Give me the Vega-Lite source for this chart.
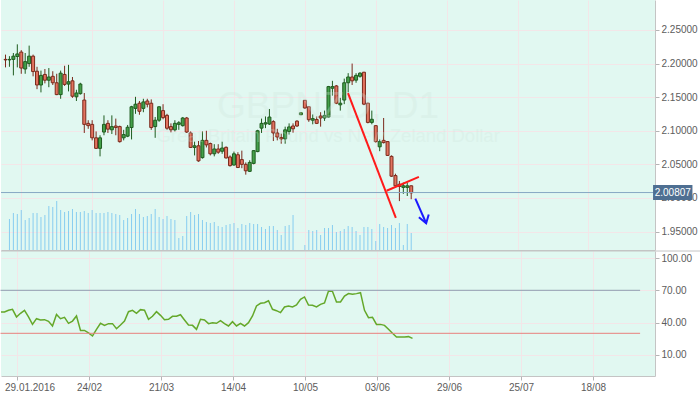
{
  "$schema": "https://vega.github.io/schema/vega-lite/v6.json",
  "padding": 0,
  "background": "#ffffff",
  "spacing": 0,
  "config": {
    "view": {"fill": "#e1f8f1", "stroke": null},
    "axis": {"labelFont": "Liberation Sans", "labelFontSize": 10, "labelColor": "#5c5c5c", "tickColor": "#b4b4b4", "domainColor": "#c4c4c4", "gridColor": "#f3e6e8", "gridWidth": 1, "titleFontSize": 0, "labelOverlap": false}
  },
  "datasets": {
    "bars": [
      {"i":-1,"o":2.2062,"h":2.2133,"l":2.1943,"c":2.2055,"v":null,"r":49.8},
      {"i":0,"o":2.2055,"h":2.2110,"l":2.1952,"c":2.2062,"v":31,"r":49.8},
      {"i":1,"o":2.2062,"h":2.2157,"l":2.1824,"c":2.2110,"v":37,"r":51.4},
      {"i":2,"o":2.2105,"h":2.2286,"l":2.1943,"c":2.2143,"v":36,"r":52.3},
      {"i":3,"o":2.2171,"h":2.2200,"l":2.1848,"c":2.1933,"v":40,"r":45.2},
      {"i":4,"o":2.1919,"h":2.2157,"l":2.1848,"c":2.2029,"v":30,"r":48.6},
      {"i":5,"o":2.2000,"h":2.2267,"l":2.1952,"c":2.2110,"v":32,"r":51.4},
      {"i":6,"o":2.2110,"h":2.2133,"l":2.1810,"c":2.1881,"v":37,"r":45.2},
      {"i":7,"o":2.1886,"h":2.1952,"l":2.1619,"c":2.1681,"v":37,"r":38.3},
      {"i":8,"o":2.1681,"h":2.1895,"l":2.1571,"c":2.1824,"v":33,"r":43.6},
      {"i":9,"o":2.1838,"h":2.1919,"l":2.1705,"c":2.1752,"v":35,"r":42.4},
      {"i":10,"o":2.1752,"h":2.1933,"l":2.1648,"c":2.1800,"v":44,"r":42.7},
      {"i":11,"o":2.1810,"h":2.1886,"l":2.1681,"c":2.1714,"v":43,"r":41.1},
      {"i":12,"o":2.1714,"h":2.1848,"l":2.1530,"c":2.1538,"v":49,"r":36.8},
      {"i":13,"o":2.1538,"h":2.1895,"l":2.1476,"c":2.1857,"v":40,"r":47.6},
      {"i":14,"o":2.1838,"h":2.1967,"l":2.1667,"c":2.1690,"v":38,"r":43.6},
      {"i":15,"o":2.1695,"h":2.1981,"l":2.1586,"c":2.1729,"v":39,"r":44.85},
      {"i":16,"o":2.1743,"h":2.1800,"l":2.1490,"c":2.1514,"v":41,"r":39.3},
      {"i":17,"o":2.1505,"h":2.1610,"l":2.1443,"c":2.1562,"v":38,"r":41.4},
      {"i":18,"o":2.1552,"h":2.1714,"l":2.1538,"c":2.1695,"v":38,"r":46.1},
      {"i":19,"o":2.1457,"h":2.1562,"l":2.0967,"c":2.1095,"v":39,"r":32.7},
      {"i":20,"o":2.1110,"h":2.1157,"l":2.1029,"c":2.1076,"v":37,"r":32.7},
      {"i":21,"o":2.1095,"h":2.1157,"l":2.0857,"c":2.0895,"v":40,"r":30.3},
      {"i":22,"o":2.0895,"h":2.0990,"l":2.0730,"c":2.0738,"v":37,"r":27.5},
      {"i":23,"o":2.0738,"h":2.0933,"l":2.0619,"c":2.0895,"v":37,"r":33.7},
      {"i":24,"o":2.0981,"h":2.1229,"l":2.0933,"c":2.1095,"v":37,"r":39.3},
      {"i":25,"o":2.1110,"h":2.1157,"l":2.0967,"c":2.1024,"v":38,"r":37.4},
      {"i":26,"o":2.1014,"h":2.1229,"l":2.0952,"c":2.1062,"v":37,"r":39.0},
      {"i":27,"o":2.1071,"h":2.1181,"l":2.0933,"c":2.1048,"v":36,"r":39.0},
      {"i":28,"o":2.1062,"h":2.1076,"l":2.0824,"c":2.0838,"v":35,"r":34.3},
      {"i":29,"o":2.0895,"h":2.1014,"l":2.0857,"c":2.0943,"v":30,"r":37.7},
      {"i":30,"o":2.0919,"h":2.1086,"l":2.0905,"c":2.1052,"v":32,"r":41.4},
      {"i":31,"o":2.1048,"h":2.1371,"l":2.0871,"c":2.1357,"v":36,"r":50.1},
      {"i":32,"o":2.1333,"h":2.1505,"l":2.1252,"c":2.1395,"v":41,"r":51.4},
      {"i":33,"o":2.1410,"h":2.1443,"l":2.1238,"c":2.1290,"v":36,"r":48.6},
      {"i":34,"o":2.1333,"h":2.1476,"l":2.1276,"c":2.1429,"v":33,"r":52.0},
      {"i":35,"o":2.1443,"h":2.1476,"l":2.1348,"c":2.1395,"v":34,"r":51.4},
      {"i":36,"o":2.1410,"h":2.1467,"l":2.1014,"c":2.1048,"v":36,"r":43.0},
      {"i":37,"o":2.1062,"h":2.1205,"l":2.0895,"c":2.1157,"v":41,"r":45.8},
      {"i":38,"o":2.1157,"h":2.1362,"l":2.1133,"c":2.1357,"v":33,"r":50.1},
      {"i":39,"o":2.1300,"h":2.1395,"l":2.1171,"c":2.1195,"v":31,"r":46.7},
      {"i":40,"o":2.1229,"h":2.1252,"l":2.1014,"c":2.1038,"v":34,"r":42.7},
      {"i":41,"o":2.1062,"h":2.1110,"l":2.0976,"c":2.1014,"v":31,"r":43.0},
      {"i":42,"o":2.1014,"h":2.1157,"l":2.0990,"c":2.1110,"v":30,"r":45.8},
      {"i":43,"o":2.1095,"h":2.1143,"l":2.1014,"c":2.1119,"v":12,"r":45.8},
      {"i":44,"o":2.1076,"h":2.1205,"l":2.1062,"c":2.1190,"v":14,"r":47.3},
      {"i":45,"o":2.1190,"h":2.1205,"l":2.0967,"c":2.0981,"v":34,"r":42.4},
      {"i":46,"o":2.0967,"h":2.0990,"l":2.0743,"c":2.0752,"v":38,"r":37.7},
      {"i":47,"o":2.0752,"h":2.0838,"l":2.0633,"c":2.0776,"v":35,"r":37.4},
      {"i":48,"o":2.0776,"h":2.0848,"l":2.0538,"c":2.0552,"v":36,"r":33.7},
      {"i":49,"o":2.0600,"h":2.0990,"l":2.0586,"c":2.0857,"v":30,"r":43.0},
      {"i":50,"o":2.0857,"h":2.1000,"l":2.0752,"c":2.0790,"v":28,"r":42.4},
      {"i":51,"o":2.0810,"h":2.0824,"l":2.0633,"c":2.0657,"v":27,"r":39.0},
      {"i":52,"o":2.0657,"h":2.0800,"l":2.0619,"c":2.0729,"v":28,"r":39.9},
      {"i":53,"o":2.0729,"h":2.0800,"l":2.0657,"c":2.0681,"v":24,"r":39.3},
      {"i":54,"o":2.0695,"h":2.0838,"l":2.0657,"c":2.0743,"v":23,"r":41.7},
      {"i":55,"o":2.0753,"h":2.0767,"l":2.0586,"c":2.0596,"v":25,"r":39.0},
      {"i":56,"o":2.0610,"h":2.0633,"l":2.0467,"c":2.0481,"v":26,"r":36.8},
      {"i":57,"o":2.0490,"h":2.0690,"l":2.0481,"c":2.0657,"v":27,"r":40.8},
      {"i":58,"o":2.0643,"h":2.0681,"l":2.0445,"c":2.0453,"v":22,"r":36.8},
      {"i":59,"o":2.0571,"h":2.0704,"l":2.0443,"c":2.0500,"v":26,"r":39.3},
      {"i":60,"o":2.0500,"h":2.0529,"l":2.0347,"c":2.0404,"v":25,"r":36.8},
      {"i":61,"o":2.0396,"h":2.0561,"l":2.0386,"c":2.0529,"v":27,"r":39.9},
      {"i":62,"o":2.0514,"h":2.0710,"l":2.0500,"c":2.0704,"v":26,"r":46.1},
      {"i":63,"o":2.0690,"h":2.1014,"l":2.0681,"c":2.1000,"v":26,"r":55.4},
      {"i":64,"o":2.1039,"h":2.1181,"l":2.0967,"c":2.1110,"v":23,"r":57.9},
      {"i":65,"o":2.1100,"h":2.1214,"l":2.1039,"c":2.1119,"v":21,"r":58.5},
      {"i":66,"o":2.1100,"h":2.1324,"l":2.1086,"c":2.1204,"v":24,"r":60.3},
      {"i":67,"o":2.1136,"h":2.1157,"l":2.0847,"c":2.0967,"v":24,"r":52.3},
      {"i":68,"o":2.0967,"h":2.1029,"l":2.0857,"c":2.0907,"v":20,"r":51.05},
      {"i":69,"o":2.0900,"h":2.0957,"l":2.0807,"c":2.0879,"v":15,"r":49.2},
      {"i":70,"o":2.0879,"h":2.1061,"l":2.0807,"c":2.1014,"v":24,"r":54.5},
      {"i":71,"o":2.0990,"h":2.1110,"l":2.0943,"c":2.1057,"v":25,"r":55.4},
      {"i":72,"o":2.1071,"h":2.1110,"l":2.0971,"c":2.1029,"v":35,"r":54.5},
      {"i":73,"o":2.1143,"h":2.1157,"l":2.1057,"c":2.1071,"v":null,"r":56.3},
      {"i":74,"o":2.1239,"h":2.1275,"l":2.1232,"c":2.1267,"v":null,"r":61.6},
      {"i":75,"o":2.1453,"h":2.1457,"l":2.1329,"c":2.1339,"v":5,"r":63.8},
      {"i":76,"o":2.1357,"h":2.1361,"l":2.1133,"c":2.1164,"v":20,"r":56.3},
      {"i":77,"o":2.1157,"h":2.1243,"l":2.1096,"c":2.1181,"v":19,"r":56.0},
      {"i":78,"o":2.1167,"h":2.1214,"l":2.1100,"c":2.1110,"v":20,"r":54.5},
      {"i":79,"o":2.1219,"h":2.1276,"l":2.1061,"c":2.1190,"v":15,"r":56.9},
      {"i":80,"o":2.1190,"h":2.1300,"l":2.1147,"c":2.1229,"v":22,"r":58.2},
      {"i":81,"o":2.1204,"h":2.1667,"l":2.1196,"c":2.1657,"v":22,"r":69.3},
      {"i":82,"o":2.1633,"h":2.1743,"l":2.1524,"c":2.1657,"v":25,"r":69.0},
      {"i":83,"o":2.1667,"h":2.1681,"l":2.1396,"c":2.1410,"v":18,"r":59.1},
      {"i":84,"o":2.1386,"h":2.1490,"l":2.1300,"c":2.1410,"v":19,"r":59.1},
      {"i":85,"o":2.1457,"h":2.1776,"l":2.1396,"c":2.1714,"v":21,"r":64.7},
      {"i":86,"o":2.1714,"h":2.1857,"l":2.1571,"c":2.1800,"v":24,"r":66.9},
      {"i":87,"o":2.1800,"h":2.2000,"l":2.1681,"c":2.1743,"v":23,"r":66.25},
      {"i":88,"o":2.1753,"h":2.1857,"l":2.1714,"c":2.1824,"v":19,"r":66.9},
      {"i":89,"o":2.1810,"h":2.1871,"l":2.1790,"c":2.1857,"v":15,"r":67.8},
      {"i":90,"o":2.1871,"h":2.1876,"l":2.1381,"c":2.1396,"v":23,"r":51.4},
      {"i":91,"o":2.1410,"h":2.1419,"l":2.1110,"c":2.1124,"v":23,"r":44.5},
      {"i":92,"o":2.1124,"h":2.1300,"l":2.1096,"c":2.1171,"v":21,"r":44.85},
      {"i":93,"o":2.1076,"h":2.1081,"l":2.0824,"c":2.0839,"v":9,"r":38.3},
      {"i":94,"o":2.0761,"h":2.0871,"l":2.0696,"c":2.0839,"v":26,"r":38.3},
      {"i":95,"o":2.0857,"h":2.1190,"l":2.0810,"c":2.0824,"v":23,"r":37.4},
      {"i":96,"o":2.0839,"h":2.0845,"l":2.0625,"c":2.0633,"v":22,"r":33.7},
      {"i":97,"o":2.0619,"h":2.0633,"l":2.0314,"c":2.0324,"v":25,"r":30.0},
      {"i":98,"o":2.0333,"h":2.0361,"l":2.0157,"c":2.0181,"v":22,"r":26.55},
      {"i":99,"o":2.0204,"h":2.0253,"l":1.9953,"c":2.0171,"v":27,"r":26.55},
      {"i":100,"o":2.0157,"h":2.0229,"l":2.0061,"c":2.0181,"v":5,"r":26.55},
      {"i":101,"o":2.0157,"h":2.0229,"l":2.0029,"c":2.0181,"v":26,"r":26.9},
      {"i":102,"o":2.0181,"h":2.0185,"l":1.9981,"c":2.0076,"v":17,"r":25.3}
    ],
    "drawings": [
      {"name":"trend1","i":85.95,"p":2.1561},
      {"name":"trend1","i":98.1,"p":1.9704},
      {"name":"trend2","i":95.75,"p":2.0107},
      {"name":"trend2","i":103.95,"p":2.0314},
      {"name":"arrow","i":103.05,"p":1.9990},
      {"name":"arrow","i":105.8,"p":1.9624},
      {"name":"head","i":103.95,"p":1.9714},
      {"name":"head","i":105.8,"p":1.9624},
      {"name":"head","i":106.45,"p":1.9753}
    ],
    "one": [{}]
  },
  "vconcat": [
    {
      "width": 654,
      "height": 250,
      "layer": [
        {
          "data": {"name": "bars"},
          "mark": {"type": "bar", "width": 1, "color": "#87cdf0", "clip": true},
          "encoding": {
            "x": {"field": "i", "type": "quantitative", "scale": {"domain": [-0.875, 162.625], "nice": false, "zero": false},
              "axis": {"orient": "bottom", "values": [3,12,21,30,39,48,57,66,75,84,93,102,111,120,129,138,147,156], "labels": false, "ticks": false, "grid": true, "domain": true, "title": null}},
            "y": {"field": "v", "type": "quantitative", "scale": {"domain": [0, 250], "nice": false}, "axis": null}
          }
        },
        {
          "layer": [
            {
              "data": {"name": "bars"},
              "mark": {"type": "rule", "strokeWidth": 1, "clip": true},
              "encoding": {
                "x": {"field": "i", "type": "quantitative"},
                "y": {"field": "l", "type": "quantitative", "scale": {"domain": [1.93, 2.28714], "nice": false, "zero": false},
                  "axis": {"orient": "right", "title": null, "values": [1.95, 2.0, 2.05, 2.1, 2.15, 2.2, 2.25], "format": ".5f",
                    "labelPadding": 2, "labelOverlap": false, "tickSize": 4, "grid": true, "domain": true}},
                "y2": {"field": "h"},
                "color": {"condition": {"test": "datum.c >= datum.o", "value": "#1f5c1f"}, "value": "#7a2a1c"}
              }
            },
            {
              "data": {"name": "bars"},
              "mark": {"type": "bar", "width": 3, "strokeWidth": 1, "clip": true},
              "encoding": {
                "x": {"field": "i", "type": "quantitative"},
                "y": {"field": "o", "type": "quantitative"},
                "y2": {"field": "c"},
                "fill": {"condition": {"test": "datum.c >= datum.o", "value": "#44a04a"}, "value": "#e2735f"},
                "stroke": {"condition": {"test": "datum.c >= datum.o", "value": "#1f5c1f"}, "value": "#7a2a1c"}
              }
            },
            {
              "data": {"name": "one"},
              "mark": {"type": "text", "font": "Liberation Sans", "fontSize": 37, "color": "#cfe3db", "opacity": 0.28, "align": "center", "baseline": "alphabetic"},
              "encoding": {
                "x": {"datum": 80.9, "type": "quantitative"},
                "y": {"datum": 2.1186, "type": "quantitative"},
                "text": {"value": "GBPNZD, D1"}
              }
            },
            {
              "data": {"name": "one"},
              "mark": {"type": "text", "font": "Liberation Sans", "fontSize": 18.5, "color": "#cfe3db", "opacity": 0.28, "align": "center", "baseline": "alphabetic"},
              "encoding": {
                "x": {"datum": 80.9, "type": "quantitative"},
                "y": {"datum": 2.0829, "type": "quantitative"},
                "text": {"value": "Great Britain Pound vs New Zeland Dollar"}
              }
            },
            {
              "data": {"name": "one"},
              "mark": {"type": "rule", "color": "#88a9c4", "strokeWidth": 1},
              "encoding": {
                "y": {"datum": 2.00807, "type": "quantitative"}
              }
            },
            {
              "data": {"name": "drawings"},
              "mark": {"type": "line", "strokeWidth": 2, "clip": true},
              "encoding": {
                "x": {"field": "i", "type": "quantitative"},
                "y": {"field": "p", "type": "quantitative"},
                "detail": {"field": "name"},
                "color": {"field": "name", "type": "nominal", "legend": null,
                  "scale": {"domain": ["trend1", "trend2", "arrow", "head"], "range": ["#ff1a1a", "#ff1a1a", "#1a1aff", "#1a1aff"]}},
                "order": {"field": "i", "type": "quantitative"}
              }
            },
            {
              "data": {"name": "one"},
              "mark": {"type": "bar", "height": 15, "color": "#4e6f92", "clip": false},
              "encoding": {
                "x": {"datum": 163.4, "type": "quantitative"},
                "x2": {"datum": 173.4},
                "y": {"datum": 2.00807, "type": "quantitative"}
              }
            },
            {
              "data": {"name": "one"},
              "mark": {"type": "text", "font": "Liberation Sans", "fontSize": 10, "color": "#ffffff", "align": "center", "baseline": "middle", "clip": false},
              "encoding": {
                "x": {"datum": 168.4, "type": "quantitative"},
                "y": {"datum": 2.00807, "type": "quantitative"},
                "text": {"value": "2.00807"}
              }
            }
          ]
        }
      ],
      "resolve": {"scale": {"y": "independent"}}
    },
    {
      "width": 654,
      "height": 125,
      "layer": [
        {
          "data": {"name": "bars"},
          "mark": {"type": "line", "color": "#64a82a", "strokeWidth": 1.5, "clip": true},
          "encoding": {
            "x": {"field": "i", "type": "quantitative", "scale": {"domain": [-0.875, 162.625], "nice": false, "zero": false},
              "axis": {"orient": "bottom", "values": [3,12,21,30,39,48,57,66,75,84,93,102,111,120,129,138,147,156], "title": null,
                "grid": true, "domain": true,
                "labelExpr": "(datum.value - 3) % 18 == 0 ? ['29.01.2016','24/02','21/03','14/04','10/05','03/06','29/06','25/07','18/08'][(datum.value - 3) / 18] : ''",
                "labelAlign": "left", "labelOffset": -12, "labelOverlap": false,
                "tickSize": {"condition": {"test": "(datum.value - 3) % 18 == 0", "value": 4}, "value": 0},
                "labelPadding": 2}},
            "y": {"field": "r", "type": "quantitative", "scale": {"domain": [-9.72, 106.56], "nice": false, "zero": false},
              "axis": {"orient": "right", "title": null, "values": [10, 40, 70, 100], "format": ".2f", "grid": true, "domain": true, "tickSize": 4, "labelPadding": 2, "labelOverlap": false}}
          }
        },
        {
          "data": {"name": "one"},
          "mark": {"type": "rule", "color": "#8d9fb1", "strokeWidth": 1},
          "encoding": {
            "x": {"datum": -1, "type": "quantitative"},
            "x2": {"datum": 158.9},
            "y": {"datum": 70, "type": "quantitative"}
          }
        },
        {
          "data": {"name": "one"},
          "mark": {"type": "rule", "color": "#e8807e", "strokeWidth": 1},
          "encoding": {
            "x": {"datum": -1, "type": "quantitative"},
            "x2": {"datum": 158.9},
            "y": {"datum": 30, "type": "quantitative"}
          }
        },
        {
          "data": {"name": "one"},
          "mark": {"type": "rule", "color": "#c4c4c4", "strokeWidth": 1, "clip": false},
          "encoding": {
            "x": {"datum": -0.875, "type": "quantitative"},
            "x2": {"datum": 174.1},
            "y": {"datum": 106.56, "type": "quantitative"}
          }
        }
      ]
    }
  ]
}
